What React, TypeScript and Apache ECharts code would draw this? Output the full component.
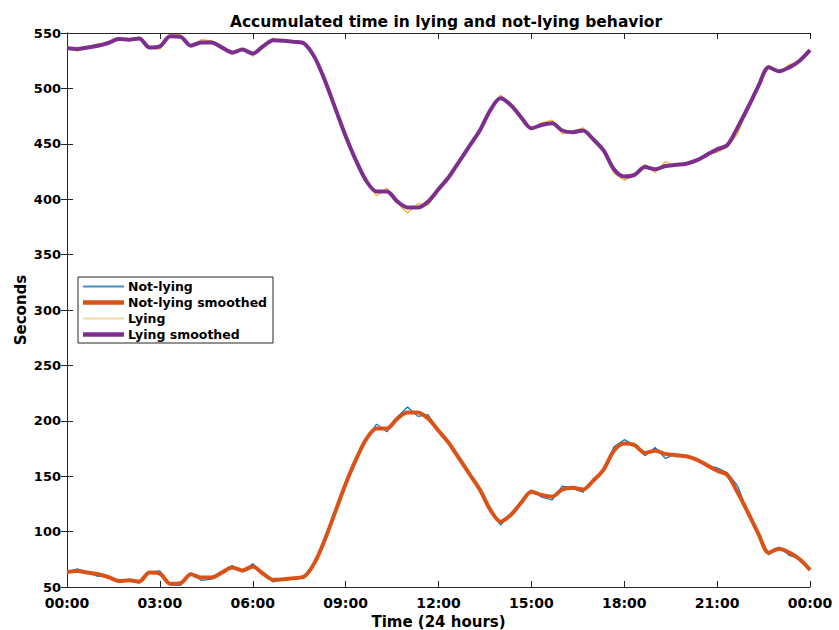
import React, { useEffect, useRef } from "react";
import * as echarts from "echarts";

const minutes = [
  0, 20, 40, 60, 80, 100, 120, 140, 160, 180, 200, 220, 240, 260, 280, 300, 320, 340,
  360, 380, 400, 420, 440, 460, 480, 500, 520, 540, 560, 580, 600, 620, 640, 660, 680, 700,
  720, 740, 760, 780, 800, 820, 840, 860, 880, 900, 920, 940, 960, 980, 1000, 1020, 1040, 1060,
  1080, 1100, 1120, 1140, 1160, 1180, 1200, 1220, 1240, 1260, 1280, 1300, 1320, 1340, 1360, 1380,
  1400, 1420, 1440,
];

const notLying = [
  63, 66.5, 63, 59.5, 60, 55, 57, 53.5, 63.5, 64.5, 52, 51.5, 62.5, 56, 57, 63.5, 69.5, 63.5,
  71, 62, 54.5, 57.5, 58, 60, 72, 93.5, 118, 143, 165, 184, 197, 190, 203.5, 212.5, 204, 205.5,
  191, 180, 166, 152, 138, 119.5, 106, 115, 126, 137.5, 131, 128.5, 141, 139, 135.5, 147.5, 155, 176.5,
  183, 178, 168.5, 176, 166, 170, 168, 165, 160, 157.5, 153, 141, 117, 98, 79, 86,
  78.5, 75.5, 65,
];

const notLyingSmoothed = [
  63.5, 64.5, 63, 61.5, 59, 55.5, 56, 55, 63, 62, 53, 53.5, 61.5, 58.5, 58.5, 63, 67.5, 65,
  68.5, 62, 56.5, 57, 58, 59.5, 72, 93, 118, 143, 165, 183.5, 193, 193, 202, 207.5, 207.5, 202,
  191, 180, 166, 152, 138, 120, 109, 115, 126, 136, 133, 131.5, 138, 139.5, 138, 146, 156, 173,
  179.5, 178, 171, 173, 170, 169, 168, 165, 160, 155, 151, 135, 117, 98, 81, 84.5,
  81, 75, 65.5,
];

const lying = [
  537, 533.5, 537, 540.5, 540, 545, 543, 546.5, 536.5, 535.5, 548, 548.5, 537.5, 544, 543, 536.5, 530.5, 536.5,
  529, 538, 545.5, 542.5, 542, 540, 528, 506.5, 482, 457, 435, 416, 403, 410, 396.5, 387.5, 396, 394.5,
  409, 420, 434, 448, 462, 480.5, 494, 485, 474, 462.5, 469, 471.5, 459, 461, 464.5, 452.5, 445, 423.5,
  417, 422, 431.5, 424, 434, 430, 432, 435, 440, 442.5, 447, 459, 483, 502, 521, 514,
  521.5, 524.5, 535,
];

const lyingSmoothed = [
  536.5, 535.5, 537, 538.5, 541, 544.5, 544, 545, 537, 538, 547, 546.5, 538.5, 541.5, 541.5, 537, 532.5, 535,
  531.5, 538, 543.5, 543, 542, 540.5, 528, 507, 482, 457, 435, 416.5, 407, 407, 398, 392.5, 392.5, 398,
  409, 420, 434, 448, 462, 480, 491, 485, 474, 464, 467, 468.5, 462, 460.5, 462, 454, 444, 427,
  420.5, 422, 429, 427, 430, 431, 432, 435, 440, 445, 449, 465, 483, 502, 519, 515.5,
  519, 525, 534.5,
];

const seriesNames = ["Not-lying", "Not-lying smoothed", "Lying", "Lying smoothed"];
const seriesColors = ["#0072BD", "#D95319", "#EDB120", "#7E2F8E"];
const seriesWidths = [1.2, 4, 1.2, 4];
const legendColors = ["#3f8fc9", "#D95319", "#f0d9a0", "#7E2F8E"];
const legendWidths = [2, 4.5, 2, 4.5];
const yTicks = { min: 50, max: 550, step: 50 };
const xTicks = { min: 0, max: 1440, step: 180 };

const pair = (vals: number[]) => minutes.map((m, i) => [m, vals[i]]);

const fmtTime = (v: number) => {
  const h = Math.round(v / 60) % 24;
  return `${String(h).padStart(2, "0")}:00`;
};

const FONT = "DejaVu Sans";
const AX = "#262626";

export default function App() {
  const ref = useRef<HTMLDivElement>(null);
  useEffect(() => {
    if (!ref.current) return;
    const chart = echarts.init(ref.current, undefined, { renderer: "svg" });
    const axisCommon = {
      axisLine: { show: true, lineStyle: { color: AX, width: 1 } },
      axisTick: { show: true, inside: true, length: 6, lineStyle: { color: AX, width: 1 } },
      splitLine: { show: false },
    };

    const legendBox = { x: 78, y: 277, w: 195, h: 66 };
    const legendElements: any[] = [
      {
        type: "rect",
        shape: { x: legendBox.x, y: legendBox.y, width: legendBox.w, height: legendBox.h },
        style: { fill: "#ffffff", stroke: AX, lineWidth: 1 },
        z: 100,
      },
    ];
    seriesNames.forEach((name, i) => {
      const cy = legendBox.y + 9.5 + i * 16;
      legendElements.push({
        type: "line",
        shape: { x1: legendBox.x + 5, y1: cy, x2: legendBox.x + 46, y2: cy },
        style: { stroke: legendColors[i], lineWidth: legendWidths[i] },
        z: 101,
      });
      legendElements.push({
        type: "text",
        x: legendBox.x + 50,
        y: cy,
        style: {
          text: name,
          fontFamily: FONT,
          fontWeight: "bold",
          fontSize: 12.5,
          fill: "#000",
          verticalAlign: "middle",
        },
        z: 101,
      });
    });

    chart.setOption({
      animation: false,
      backgroundColor: "#ffffff",
      title: {
        text: "Accumulated time in lying and not-lying behavior",
        left: 441,
        top: 9,
        textAlign: "center",
        textStyle: { fontFamily: FONT, fontWeight: "bold", fontSize: 15.5, color: "#000" },
      },
      graphic: legendElements,
      grid: { left: 67, right: 29, top: 33, bottom: 43, outerBoundsMode: "none", containLabel: false },
      xAxis: [
        {
          type: "value",
          position: "bottom",
          min: xTicks.min,
          max: xTicks.max,
          interval: xTicks.step,
          ...axisCommon,
          axisLabel: {
            formatter: fmtTime,
            fontFamily: FONT,
            fontWeight: "bold",
            fontSize: 14,
            color: "#000",
            margin: 9,
          },
          name: "Time (24 hours)",
          nameLocation: "middle",
          nameGap: 27,
          nameMoveOverlap: false,
          nameTextStyle: { fontFamily: FONT, fontWeight: "bold", fontSize: 15, color: "#000" },
        },
        {
          type: "value",
          position: "top",
          min: xTicks.min,
          max: xTicks.max,
          interval: xTicks.step,
          ...axisCommon,
          axisLabel: { show: false },
        },
      ],
      yAxis: [
        {
          type: "value",
          position: "left",
          min: yTicks.min,
          max: yTicks.max,
          interval: yTicks.step,
          ...axisCommon,
          axisLabel: {
            fontFamily: FONT,
            fontWeight: "bold",
            fontSize: 13,
            color: "#000",
            margin: 6,
          },
          name: "Seconds",
          nameLocation: "middle",
          nameGap: 39,
          nameMoveOverlap: false,
          nameRotate: 90,
          nameTextStyle: { fontFamily: FONT, fontWeight: "bold", fontSize: 15, color: "#000" },
        },
        {
          type: "value",
          position: "right",
          min: yTicks.min,
          max: yTicks.max,
          interval: yTicks.step,
          ...axisCommon,
          axisLabel: { show: false },
        },
      ],
      series: [
        {
          name: seriesNames[0],
          type: "line",
          data: pair(notLying),
          symbol: "none",
          lineStyle: { color: seriesColors[0], width: seriesWidths[0] },
          itemStyle: { color: seriesColors[0] },
        },
        {
          name: seriesNames[1],
          type: "line",
          data: pair(notLyingSmoothed),
          symbol: "none",
          smooth: 0.3,
          lineStyle: { color: seriesColors[1], width: seriesWidths[1] },
          itemStyle: { color: seriesColors[1] },
        },
        {
          name: seriesNames[2],
          type: "line",
          data: pair(lying),
          symbol: "none",
          lineStyle: { color: seriesColors[2], width: seriesWidths[2] },
          itemStyle: { color: seriesColors[2] },
        },
        {
          name: seriesNames[3],
          type: "line",
          data: pair(lyingSmoothed),
          symbol: "none",
          smooth: 0.3,
          lineStyle: { color: seriesColors[3], width: seriesWidths[3] },
          itemStyle: { color: seriesColors[3] },
        },
      ],
    });
    return () => chart.dispose();
  }, []);
  return (
    <div
      ref={ref}
      style={{ position: "absolute", left: 0, top: 0, width: 839, height: 630, background: "#fff" }}
    />
  );
}
